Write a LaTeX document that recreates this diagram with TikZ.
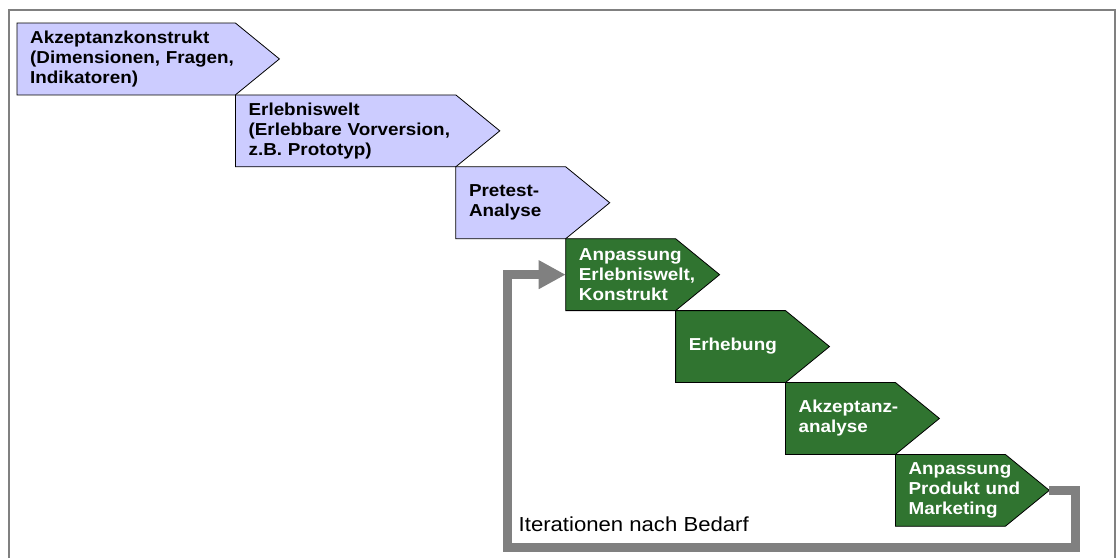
\documentclass[tikz,border=0pt]{standalone}
\usepackage{fontspec}
\setmainfont{Liberation Sans}[FakeStretch=1.09]
\usetikzlibrary{arrows.meta,backgrounds,calc}

\definecolor{lavender}{RGB}{204,204,255}
\definecolor{leafgreen}{RGB}{48,116,48}
\definecolor{loopgray}{RGB}{128,128,128}

\tikzset{
  stepbox/.style={anchor=north west, minimum height=71.5pt, inner xsep=13pt, inner ysep=0pt,
    align=left, font=\fontsize{17.3}{20}\selectfont\bfseries},
  widestep/.style={stepbox, text width=192pt},
  shortstep/.style={stepbox, text width=83.5pt},
  greenstep/.style={shortstep, text=white},
}

\begin{document}
\hyphenpenalty=10000
\exhyphenpenalty=10000
\begin{tikzpicture}[x=1pt,y=-1pt]

\useasboundingbox (0,0) rectangle (1116,558);

% frame
\draw[loopgray, line width=2pt] (8.5,558) -- (8.5,9.5) -- (1114.5,9.5) -- (1114.5,558);

% preparation
\node[widestep] (s1) at (17,23) {Akzeptanzkonstrukt\\(Dimensionen,~Fragen,\\Indikatoren)};
\node[widestep, text width=194pt] (s2) at (s1.south east) {Erlebniswelt\\(Erlebbare~Vorversion,\\z.B.~Prototyp)};
\node[shortstep] (s3) at (s2.south east) {Pretest-\\Analyse};

% iteration
\node[greenstep] (s4) at (s3.south east) {Anpassung\\Erlebniswelt,\\Konstrukt};
\node[greenstep] (s5) at (s4.south east) {Erhebung};
\node[greenstep] (s6) at (s5.south east) {Akzeptanz-\\analyse};
\node[greenstep] (s7) at (s6.south east) {Anpassung\\Produkt~und\\Marketing};

% arrow shapes
\begin{scope}[on background layer]
\foreach \n/\c in {s1/lavender,s2/lavender,s3/lavender,s4/leafgreen,s5/leafgreen,s6/leafgreen,s7/leafgreen} {
  \coordinate (\n-tip) at ($(\n.east)+(44,0)$);
  \draw[line width=0.8pt, fill=\c] (\n.north west) -- (\n.north east) -- (\n-tip) -- (\n.south east) -- (\n.south west) -- cycle;
}
\end{scope}

% loop back
\coordinate (loopright) at (1075.5,547);
\coordinate (loopleft) at (507.5,547);
\draw[loopgray, line width=9pt, -{Triangle[length=27pt,width=27pt]}] (s7-tip) -| (loopright) -- (loopleft) |- (s4.west);
\node[anchor=base west, inner sep=0pt, font=\fontsize{20.3}{24}\selectfont] (iter) at (518.5,531) {Iterationen nach Bedarf};

\end{tikzpicture}
\end{document}
